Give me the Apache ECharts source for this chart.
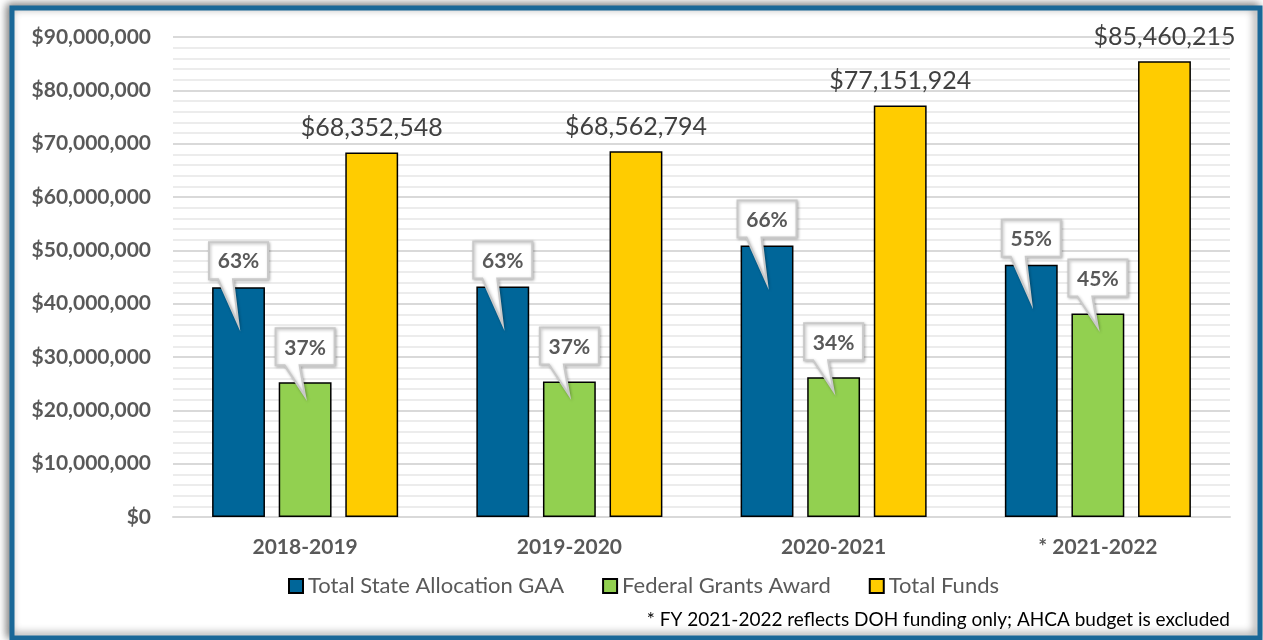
<!DOCTYPE html>
<html>
<head>
<meta charset="utf-8">
<script src="https://cdn.jsdelivr.net/npm/echarts@6/dist/echarts.min.js"></script>
<style>
html,body{margin:0;padding:0;background:#fff;}
#chart{width:1263px;height:640px;}
</style>
</head>
<body>
<div id="chart"></div>
<script>
const categories = ['2018-2019', '2019-2020', '2020-2021', '* 2021-2022'];
const stateAllocation = [43100000, 43200000, 50900000, 47300000];
const federalGrants = [25250000, 25400000, 26200000, 38150000];
const totalFunds = [68352548, 68562794, 77151924, 85460215];
const statePct = ['63%', '63%', '66%', '55%'];
const federalPct = ['37%', '37%', '34%', '45%'];
const seriesNames = ['Total State Allocation GAA', 'Federal Grants Award', 'Total Funds'];
const yTicks = { min: 0, max: 90000000, interval: 10000000 };
const footnote = '* FY 2021-2022 reflects DOH funding only; AHCA budget is excluded';

const FONT = 'Lato';
const chart = echarts.init(document.getElementById('chart'), null, { renderer: 'canvas' });

function money(v) { return '$' + Number(v).toLocaleString('en-US'); }

function calloutRenderer(offsetFrac, gap, depth) {
  return function (params, api) {
    const c = api.coord([api.value(0), api.value(1)]);
    const band = api.size([1, 0])[0];
    const cx = c[0] + offsetFrac * band;
    const top = c[1];
    const w = 59, h = 37;
    const bx = cx - w / 2;
    const by = top - gap - h;
    const tipY = top + depth;
    const pts = [
      [bx, by], [bx + w, by], [bx + w, by + h],
      [bx + 24, by + h], [cx, tipY], [bx + 9, by + h], [bx, by + h]
    ];
    return {
      type: 'group',
      children: [
        {
          type: 'polygon',
          shape: { points: pts },
          style: { fill: '#ffffff', stroke: '#c9c9c9', lineWidth: 2,
                   shadowBlur: 3, shadowColor: 'rgba(0,0,0,0.25)', shadowOffsetX: 1, shadowOffsetY: 1 }
        },
        {
          type: 'text',
          style: {
            text: api.value(2),
            x: bx + w / 2, y: by + h / 2 + 1,
            align: 'center', verticalAlign: 'middle',
            fill: '#595959', font: 'bold 21px ' + FONT
          }
        }
      ]
    };
  };
}

const barBase = {
  type: 'bar',
  barWidth: '20%',
  barGap: '26%'
};

chart.setOption({
  animation: false,
  backgroundColor: 'transparent',
  textStyle: { fontFamily: FONT },
  graphic: [
    {
      type: 'rect', z: -10, silent: true,
      shape: { x: 12, y: 8, width: 1248, height: 630 },
      style: { fill: '#ffffff', stroke: '#1a6898', lineWidth: 5,
               shadowBlur: 8, shadowOffsetX: -3, shadowOffsetY: -2, shadowColor: 'rgba(0,0,0,0.45)' }
    },
    {
      type: 'text', silent: true,
      style: {
        text: footnote, x: 1230, y: 620, align: 'right', verticalAlign: 'middle',
        fill: '#000000', font: '19px ' + FONT
      }
    }
  ],
  grid: { left: 173, right: 33, top: 37, bottom: 123, containLabel: false },
  legend: {
    data: seriesNames,
    left: 283, top: 570,
    itemWidth: 14, itemHeight: 14, itemGap: 38,
    icon: 'rect',
    textStyle: { fontSize: 22, color: '#595959', fontFamily: FONT }
  },
  xAxis: {
    type: 'category',
    data: categories,
    axisLine: { show: true, lineStyle: { color: '#d9d9d9', width: 2 } },
    axisTick: { show: false },
    axisLabel: { margin: 20, fontSize: 21, fontWeight: 'bold', color: '#595959', fontFamily: FONT }
  },
  yAxis: {
    type: 'value',
    min: yTicks.min, max: yTicks.max, interval: yTicks.interval,
    axisLine: { show: false },
    axisTick: { show: false },
    axisLabel: { margin: 22, fontSize: 21, fontWeight: 'bold', color: '#595959', fontFamily: FONT,
                 formatter: money },
    splitLine: { show: true, lineStyle: { color: '#d9d9d9', width: 2 } },
    minorTick: { show: false, splitNumber: 5 },
    minorSplitLine: { show: true, lineStyle: { color: '#ececec', width: 2 } }
  },
  series: [
    Object.assign({}, barBase, {
      name: seriesNames[0], data: stateAllocation,
      itemStyle: { color: '#006699', borderColor: '#000', borderWidth: 1.5 }
    }),
    Object.assign({}, barBase, {
      name: seriesNames[1], data: federalGrants,
      itemStyle: { color: '#92d050', borderColor: '#000', borderWidth: 1.5 }
    }),
    Object.assign({}, barBase, {
      name: seriesNames[2], data: totalFunds,
      itemStyle: { color: '#ffcc00', borderColor: '#000', borderWidth: 1.5 },
      label: {
        show: true, position: 'top', distance: 12,
        fontSize: 25, color: '#404040', fontFamily: FONT,
        formatter: p => money(p.value)
      }
    }),
    {
      type: 'custom', name: 'stateCallout', z: 5,
      renderItem: calloutRenderer(-0.252, 8, 38),
      data: stateAllocation.map((v, i) => [i, v, statePct[i]]),
      silent: true
    },
    {
      type: 'custom', name: 'federalCallout', z: 5,
      renderItem: calloutRenderer(0, 17, 14),
      data: federalGrants.map((v, i) => [i, v, federalPct[i]]),
      silent: true
    }
  ]
});
</script>
</body>
</html>
